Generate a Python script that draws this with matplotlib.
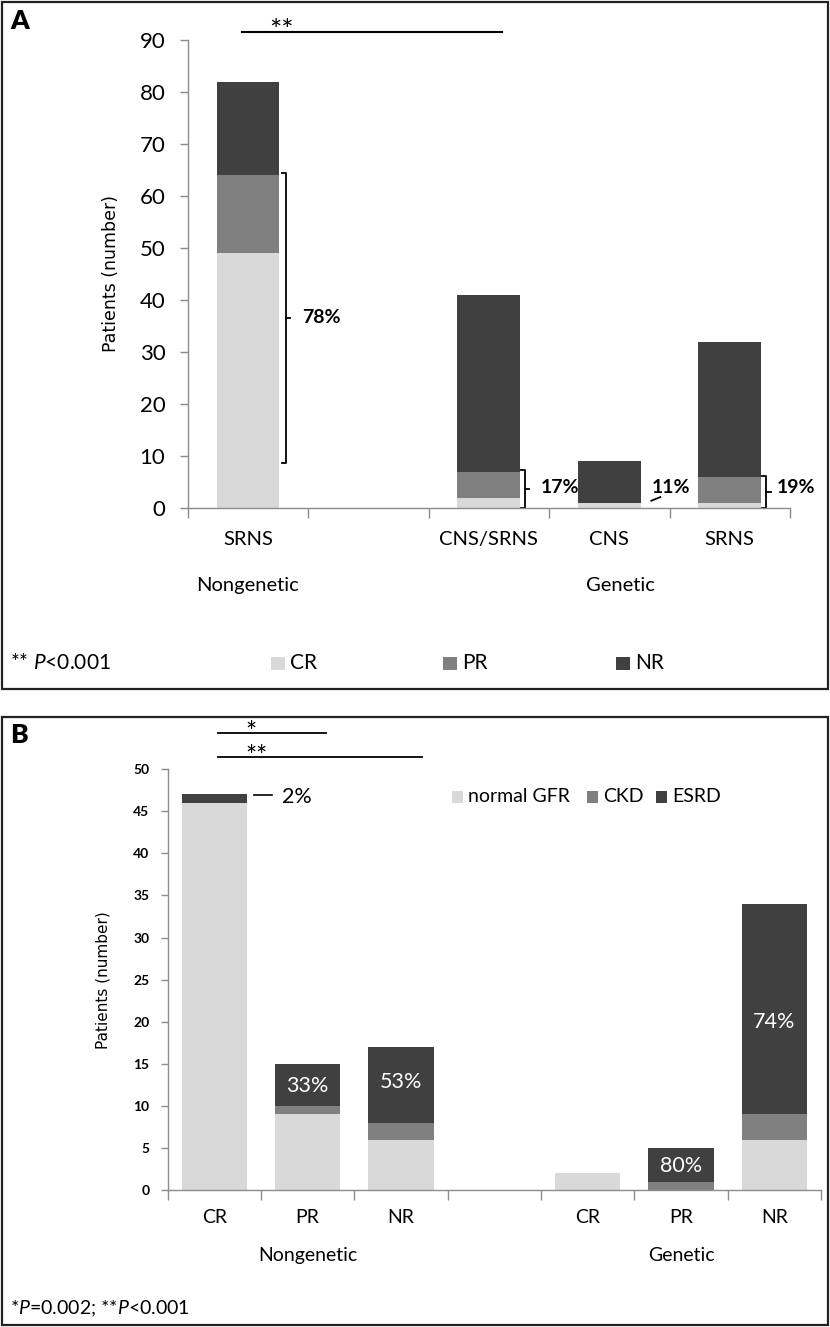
import matplotlib
matplotlib.use('Agg')
import matplotlib.pyplot as plt
from matplotlib.patches import Rectangle

# ---- data, panel A: response to therapy ----
a_pos = [0, 2, 3, 4]
a_cats = ['SRNS', 'CNS/SRNS', 'CNS', 'SRNS']
a_cr = [49, 2, 1, 1]
a_pr = [15, 5, 0, 5]
a_nr = [18, 34, 8, 26]

# ---- data, panel B: kidney outcome by response ----
b_pos = [0, 1, 2, 4, 5, 6]
b_cats = ['CR', 'PR', 'NR', 'CR', 'PR', 'NR']
b_gfr = [46, 9, 6, 2, 0, 6]
b_ckd = [0, 1, 2, 0, 1, 3]
b_esrd = [1, 5, 9, 0, 4, 25]

C_LIGHT = '#d9d9d9'
C_MID = '#808080'
C_DARK = '#404040'
AXC = '#8c8c8c'

plt.rcParams['font.family'] = ['Lato', 'DejaVu Sans']
plt.rcParams['mathtext.fontset'] = 'custom'
plt.rcParams['mathtext.rm'] = 'Lato'
plt.rcParams['mathtext.it'] = 'Lato:italic'

W, H = 830, 1327
fig = plt.figure(figsize=(W / 100, H / 100), dpi=100)


def fx(x):
    return x / W


def fy(y):
    return 1 - y / H


def style_axes(ax, n_slots, tick_len):
    for s in ['top', 'right']:
        ax.spines[s].set_visible(False)
    for s in ['left', 'bottom']:
        ax.spines[s].set_color(AXC)
        ax.spines[s].set_linewidth(1.0)
    ax.set_xlim(-0.5, n_slots - 0.5)
    ax.set_xticks([])
    ax.set_xticks([i - 0.5 for i in range(n_slots + 1)], minor=True)
    ax.tick_params(axis='x', which='minor', length=7, color=AXC, width=1.0)
    ax.tick_params(axis='y', length=tick_len, color=AXC, width=1.0)


# frames
fig.add_artist(Rectangle((fx(2), fy(689)), 826 / W, 687 / H, transform=fig.transFigure,
                         fill=False, lw=1.6, edgecolor='#222222'))
fig.add_artist(Rectangle((fx(2), fy(1325)), 826 / W, 608 / H, transform=fig.transFigure,
                         fill=False, lw=1.6, edgecolor='#222222'))

# ================= panel A =================
axA = fig.add_axes([fx(187.6), fy(508), (790 - 187.6) / W, (508 - 40) / H])
style_axes(axA, 5, 6)
axA.set_ylim(0, 90)
axA.set_yticks(range(0, 91, 10))
axA.tick_params(axis='y', labelsize=16, pad=10)
bw = 0.52
axA.bar(a_pos, a_cr, bw, color=C_LIGHT)
axA.bar(a_pos, a_pr, bw, bottom=a_cr, color=C_MID)
axA.bar(a_pos, a_nr, bw, bottom=[c + p for c, p in zip(a_cr, a_pr)], color=C_DARK)
axA.set_ylabel('Patients (number)', family='DejaVu Sans', fontsize=12.5, labelpad=14)

xtA = axA.get_xaxis_transform()
for p, c in zip(a_pos, a_cats):
    axA.text(p, -0.068, c, transform=xtA, ha='center', va='center', fontsize=14.5)
axA.text(0, -0.165, 'Nongenetic', transform=xtA, ha='center', va='center', fontsize=14.5)
axA.text(3.09, -0.165, 'Genetic', transform=xtA, ha='center', va='center', fontsize=14.5)

# significance bar
axA.plot([-0.048, 2.11], [91.5, 91.5], color='black', lw=1.5, clip_on=False)
axA.text(0.277, 91.5, '**', ha='center', va='center', fontsize=21, clip_on=False)


def bracket(ax, x, y0, y1, hook, tick):
    ax.plot([x - hook, x, x, x - hook], [y1, y1, y0, y0], color='black', lw=1.3, clip_on=False)
    ym = (y0 + y1) / 2
    ax.plot([x, x + tick], [ym, ym], color='black', lw=1.3, clip_on=False)
    return ym


ym = bracket(axA, 0.317, 8.7, 64.5, 0.035, 0.035)
axA.text(0.45, ym, '78%', ha='left', va='center', fontsize=14, fontweight='bold')
bracket(axA, 2.302, 0, 7.3, 0.035, 0.035)
axA.text(2.43, 4.0, '17%', ha='left', va='center', fontsize=14, fontweight='bold')
axA.plot([3.349, 3.424], [1.4, 2.1], color='black', lw=1.3, clip_on=False)
axA.text(3.349, 4.0, '11%', ha='left', va='center', fontsize=14, fontweight='bold')
bracket(axA, 4.304, 0, 6.2, 0.035, 0.035)
axA.text(4.39, 4.0, '19%', ha='left', va='center', fontsize=14, fontweight='bold')

fig.text(fx(10), fy(21), 'A', ha='left', va='center', fontsize=19, fontweight='heavy')

# legend A + footnote
fig.text(fx(10), fy(663), '** $\\mathit{P}$<0.001', ha='left', va='center', fontsize=15)
for xs, lab, col in [(271, 'CR', C_LIGHT), (443, 'PR', C_MID), (616, 'NR', C_DARK)]:
    fig.add_artist(Rectangle((fx(xs), fy(670)), 14 / W, 13 / H, transform=fig.transFigure,
                             color=col, lw=0))
    fig.text(fx(xs + 19), fy(663), lab, ha='left', va='center', fontsize=15)

# ================= panel B =================
axB = fig.add_axes([fx(167.5), fy(1190.3), (821 - 167.5) / W, (1190.3 - 769) / H])
style_axes(axB, 7, 5)
axB.set_ylim(0, 50)
axB.set_yticks(range(0, 51, 5))
axB.tick_params(axis='y', labelsize=10, pad=8)
for lb in axB.get_yticklabels():
    lb.set_fontweight('bold')
bw = 0.70
axB.bar(b_pos, b_gfr, bw, color=C_LIGHT)
axB.bar(b_pos, b_ckd, bw, bottom=b_gfr, color=C_MID)
axB.bar(b_pos, b_esrd, bw, bottom=[g + c for g, c in zip(b_gfr, b_ckd)], color=C_DARK)
axB.set_ylabel('Patients (number)', family='DejaVu Sans', fontsize=11, labelpad=16)

xtB = axB.get_xaxis_transform()
for p, c in zip(b_pos, b_cats):
    axB.text(p, -0.065, c, transform=xtB, ha='center', va='center', fontsize=14)
axB.text(1, -0.155, 'Nongenetic', transform=xtB, ha='center', va='center', fontsize=14)
axB.text(5, -0.155, 'Genetic', transform=xtB, ha='center', va='center', fontsize=14)

# in-bar percentages
for p, y, t in [(1, 12.4, '33%'), (2, 12.9, '53%'), (5, 2.9, '80%'), (6, 20.0, '74%')]:
    axB.text(p, y, t, ha='center', va='center', fontsize=15.5, color='white')
axB.plot([0.427, 0.62], [46.9, 46.9], color='black', lw=1.2, clip_on=False)
axB.text(0.727, 46.65, '2%', ha='left', va='center', fontsize=15.5)

# significance bars
axB.plot([0.041, 1.198], [54.3, 54.3], color='black', lw=1.3, clip_on=False)
axB.text(0.394, 54.25, '*', ha='center', va='center', fontsize=19, clip_on=False)
axB.plot([0.041, 2.226], [51.4, 51.4], color='black', lw=1.3, clip_on=False)
axB.text(0.45, 51.35, '**', ha='center', va='center', fontsize=19, clip_on=False)

fig.text(fx(10), fy(735), 'B', ha='left', va='center', fontsize=19, fontweight='heavy')

for xs, lab, col in [(451.5, 'normal GFR', C_LIGHT), (587, 'CKD', C_MID), (656, 'ESRD', C_DARK)]:
    fig.add_artist(Rectangle((fx(xs), fy(803)), 11 / W, 12 / H, transform=fig.transFigure,
                             color=col, lw=0))
    fig.text(fx(xs + 16), fy(797), lab, ha='left', va='center', fontsize=14)

fig.text(fx(10), fy(1309), '*$\\mathit{P}$=0.002; **$\\mathit{P}$<0.001', ha='left', va='center',
         fontsize=14)

fig.savefig('out.png', dpi=100)
